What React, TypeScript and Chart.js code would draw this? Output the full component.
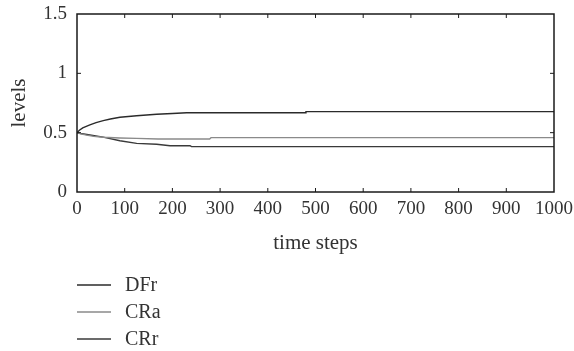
import React, { useEffect, useRef } from "react";
import { Chart, registerables } from "chart.js";

Chart.register(...registerables);

const dfrT = [0, 5, 12, 27, 40, 55, 70, 90, 125, 167, 200, 230, 478, 480, 1000];
const dfrV = [0.5, 0.52, 0.54, 0.565, 0.585, 0.601, 0.615, 0.63, 0.643, 0.655, 0.662, 0.668, 0.668, 0.677, 0.677];

const craT = [0, 8, 20, 35, 55, 90, 125, 170, 278, 281, 1000];
const craV = [0.5, 0.49, 0.479, 0.469, 0.461, 0.455, 0.452, 0.447, 0.447, 0.458, 0.458];

const crrT = [0, 8, 27, 55, 90, 125, 167, 195, 237, 240, 1000];
const crrV = [0.5, 0.493, 0.48, 0.462, 0.432, 0.41, 0.402, 0.39, 0.39, 0.382, 0.382];

const xTicks = [0, 100, 200, 300, 400, 500, 600, 700, 800, 900, 1000];
const yTicks = [0, 0.5, 1, 1.5];

const seriesNames = ["DFr", "CRa", "CRr"];
const seriesColors = ["#2b2b2b", "#8a8a8a", "#3a3a3a"];

const FONT = "'Liberation Serif', 'Times New Roman', serif";
const TEXT = "#333333";

const toPts = (t: number[], v: number[]) => t.map((x, i) => ({ x, y: v[i] }));

const framePlugin = {
  id: "frame",
  afterDatasetsDraw(chart: any) {
    const { ctx, chartArea: a, scales } = chart;
    ctx.save();
    ctx.strokeStyle = "#1a1a1a";
    ctx.lineWidth = 1.5;
    ctx.strokeRect(a.left, a.top, a.right - a.left, a.bottom - a.top);
    ctx.lineWidth = 1;
    const tl = 4;
    for (const t of xTicks) {
      const x = scales.x.getPixelForValue(t);
      if (t === xTicks[0] || t === xTicks[xTicks.length - 1]) continue;
      ctx.beginPath();
      ctx.moveTo(x, a.bottom);
      ctx.lineTo(x, a.bottom - tl);
      ctx.moveTo(x, a.top);
      ctx.lineTo(x, a.top + tl);
      ctx.stroke();
    }
    for (const t of yTicks) {
      if (t === yTicks[0] || t === yTicks[yTicks.length - 1]) continue;
      const y = scales.y.getPixelForValue(t);
      ctx.beginPath();
      ctx.moveTo(a.left, y);
      ctx.lineTo(a.left + tl, y);
      ctx.moveTo(a.right, y);
      ctx.lineTo(a.right - tl, y);
      ctx.stroke();
    }
    ctx.restore();
  },
  afterDraw(chart: any) {
    const { ctx, chartArea: a } = chart;
    ctx.save();
    ctx.font = `20px ${FONT}`;
    ctx.textBaseline = "middle";
    ctx.textAlign = "left";
    chart.data.datasets.forEach((ds: any, i: number) => {
      const y = a.bottom + 93 + i * 27;
      ctx.strokeStyle = ds.borderColor;
      ctx.lineWidth = 1.5;
      ctx.beginPath();
      ctx.moveTo(a.left, y);
      ctx.lineTo(a.left + 34, y);
      ctx.stroke();
      ctx.fillStyle = TEXT;
      ctx.fillText(ds.label, a.left + 48, y + 1);
    });
    ctx.restore();
  },
};

export default function App() {
  const ref = useRef<HTMLCanvasElement | null>(null);
  useEffect(() => {
    if (!ref.current) return;
    const chart = new Chart(ref.current, {
      type: "line",
      data: {
        datasets: [
          { label: seriesNames[0], data: toPts(dfrT, dfrV), borderColor: seriesColors[0] },
          { label: seriesNames[1], data: toPts(craT, craV), borderColor: seriesColors[1] },
          { label: seriesNames[2], data: toPts(crrT, crrV), borderColor: seriesColors[2] },
        ].map((d) => ({ ...d, borderWidth: 1.4, pointRadius: 0, tension: 0, fill: false })),
      },
      options: {
        responsive: false,
        animation: false,
        layout: { padding: { left: 0, right: 20, top: 14, bottom: 94 } },
        plugins: { legend: { display: false }, tooltip: { enabled: false } },
        scales: {
          x: {
            type: "linear",
            min: 0,
            max: 1000,
            afterBuildTicks: (s: any) => {
              s.ticks = xTicks.map((v) => ({ value: v }));
            },
            afterFit: (s: any) => {
              s.height = 65;
              s.paddingLeft = 0;
              s.paddingRight = 0;
            },
            grid: { display: false, drawTicks: false },
            border: { display: false },
            ticks: {
              color: TEXT,
              font: { family: FONT, size: 19 },
              padding: 6,
              maxRotation: 0,
              autoSkip: false,
              callback: (v: any) => String(v),
            },
            title: { display: true, text: "time steps", color: TEXT, font: { family: FONT, size: 21 }, padding: { top: 0, bottom: 1 } },
          },
          y: {
            type: "linear",
            min: 0,
            max: 1.5,
            afterBuildTicks: (s: any) => {
              s.ticks = yTicks.map((v) => ({ value: v }));
            },
            afterFit: (s: any) => {
              s.width = 77;
              s.paddingTop = 0;
              s.paddingBottom = 0;
            },
            grid: { display: false, drawTicks: false },
            border: { display: false },
            ticks: { color: TEXT, font: { family: FONT, size: 19 }, padding: 10, callback: (v: any) => String(v) },
            title: { display: true, text: "levels", color: TEXT, font: { family: FONT, size: 21 }, padding: { top: 7, bottom: 0 } },
          },
        },
      },
      plugins: [framePlugin],
    } as any);
    return () => chart.destroy();
  }, []);
  return (
    <div style={{ position: "absolute", left: 0, top: 0, width: 574, height: 351, background: "#fff" }}>
      <canvas ref={ref} width={574} height={351} style={{ display: "block" }} />
    </div>
  );
}
